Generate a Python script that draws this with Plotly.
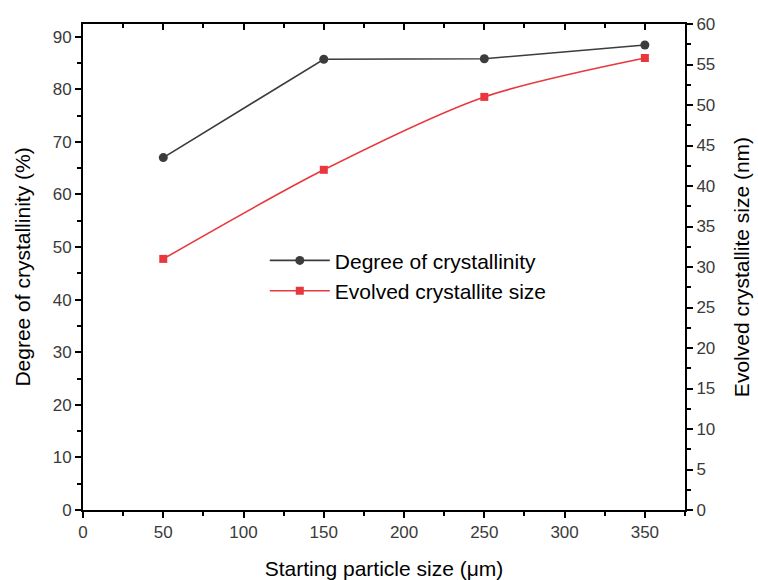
import plotly.graph_objects as go

particle_size = [50, 150, 250, 350]
crystallinity = [67.0, 85.7, 85.8, 88.4]
crystallite_size = [31.0, 42.0, 51.0, 55.8]

x_ticks = [0, 50, 100, 150, 200, 250, 300, 350]
left_ticks = [0, 10, 20, 30, 40, 50, 60, 70, 80, 90]
right_ticks = [0, 5, 10, 15, 20, 25, 30, 35, 40, 45, 50, 55, 60]

FONT = "Liberation Sans, Arial, sans-serif"
black_line = "#3c3c3c"
red_line = "#e8383d"

fig = go.Figure()
fig.add_trace(go.Scatter(
    x=particle_size, y=crystallinity, name="Degree of crystallinity",
    mode="lines+markers", line=dict(color=black_line, width=1.6),
    marker=dict(symbol="circle", size=9, color=black_line), yaxis="y"))
fig.add_trace(go.Scatter(
    x=particle_size, y=crystallite_size, name="Evolved crystallite size",
    mode="lines+markers", line=dict(color=red_line, width=1.6, shape="spline", smoothing=0.8),
    marker=dict(symbol="square", size=8, color=red_line), yaxis="y2"))

axis_common = dict(showgrid=False, zeroline=False, linecolor="black", linewidth=2,
                   tickcolor="black", tickwidth=2, ticklen=6, automargin=False,
                   tickfont=dict(family=FONT, size=17, color="#3a3a3a"))

fig.update_layout(
    width=758, height=580,
    margin=dict(l=83, r=73, t=24, b=70),
    paper_bgcolor="white", plot_bgcolor="white",
    font=dict(family=FONT, color="black"),
    showlegend=True,
    legend=dict(x=0.302, y=0.555, xanchor="left", yanchor="top",
                bgcolor="rgba(0,0,0,0)", font=dict(family=FONT, size=21, color="black"),
                tracegroupgap=0, itemwidth=60),
    xaxis=dict(range=[0, 375], tickvals=x_ticks, ticks="outside",
               minor=dict(ticks="outside", dtick=25, tick0=0, ticklen=4, tickcolor="black", tickwidth=2),
               title=dict(text="Starting particle size (μm)", font=dict(family=FONT, size=21), standoff=20),
               **axis_common),
    xaxis2=dict(range=[0, 375], overlaying="x", side="top", tickvals=x_ticks, ticks="inside",
                showticklabels=False,
                minor=dict(ticks="inside", dtick=25, tick0=0, ticklen=4, tickcolor="black", tickwidth=2),
                **axis_common),
    yaxis=dict(range=[0, 92.4], tickvals=left_ticks, ticks="outside",
               minor=dict(ticks="outside", dtick=5, tick0=0, ticklen=4, tickcolor="black", tickwidth=2),
               title=dict(text="Degree of crystallinity (%)", font=dict(family=FONT, size=21), standoff=16),
               **axis_common),
    yaxis2=dict(range=[0, 60], overlaying="y", side="right", tickvals=right_ticks, ticks="outside",
                minor=dict(ticks="outside", dtick=2.5, tick0=0, ticklen=4, tickcolor="black", tickwidth=2),
                title=dict(text="Evolved crystallite size (nm)", font=dict(family=FONT, size=21), standoff=20),
                **axis_common),
)
fig.add_trace(go.Scatter(x=[None], y=[None], xaxis="x2", showlegend=False, hoverinfo="skip"))

fig.write_html("out.html")
